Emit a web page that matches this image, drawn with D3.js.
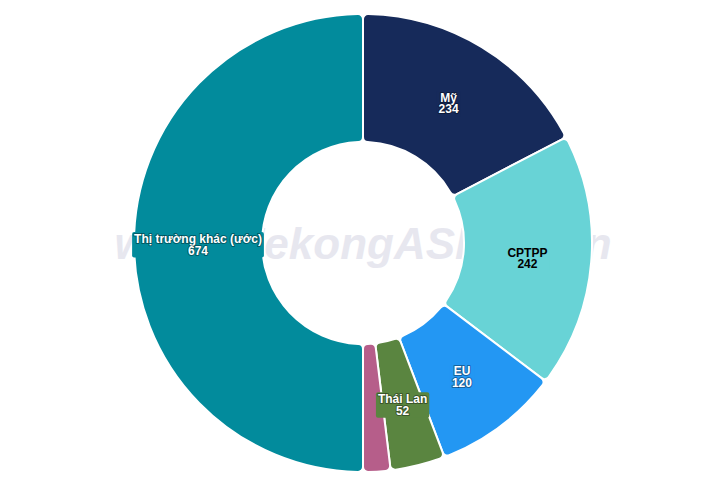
<!DOCTYPE html>
<html>
<head>
<meta charset="utf-8">
<script src="https://cdn.jsdelivr.net/npm/d3@7"></script>
<style>
  html, body { margin: 0; padding: 0; background: #fff; }
  svg { display: block; }
</style>
</head>
<body>
<svg id="chart" width="701" height="483"></svg>
<script>
const categories = ["Mỹ", "CPTPP", "EU", "Thái Lan", "", "Thị trường khác (ước)"];
const values = [234, 242, 120, 52, 26, 674];
const colors = ["#162a5a", "#68d3d6", "#2397f3", "#5a8540", "#b65e8a", "#028b9c"];
const labelColors = ["#ffffff", "#000000", "#ffffff", "#ffffff", "#ffffff", "#ffffff"];
const watermark = "www.MekongASEAN.vn";

const W = 701, H = 483;
const cx = 363, cy = 243;
const outerR = 229, innerR = 101;

const svg = d3.select("#chart");

// watermark behind
svg.append("text")
  .attr("x", cx).attr("y", 259)
  .attr("text-anchor", "middle")
  .attr("font-family", "Liberation Sans, Arial, sans-serif")
  .attr("font-weight", "bold")
  .attr("font-style", "italic")
  .attr("font-size", 44)
  .attr("fill", "#e7e7ef")
  .text(watermark);

const data = categories.map((c, i) => ({ name: c, value: values[i], color: colors[i], lc: labelColors[i] }));

const pie = d3.pie().sort(null).value(d => d.value);
const arcs = pie(data);

const arc = d3.arc().innerRadius(innerR).outerRadius(outerR).cornerRadius(5);
const labelArc = d3.arc().innerRadius(innerR).outerRadius(outerR);

const g = svg.append("g").attr("transform", `translate(${cx},${cy})`);

g.selectAll("path.slice")
  .data(arcs)
  .join("path")
  .attr("class", "slice")
  .attr("d", arc)
  .attr("fill", d => d.data.color)
  .attr("stroke", "#ffffff")
  .attr("stroke-width", 2)
  .attr("stroke-linejoin", "round");

const labels = g.selectAll("g.lbl")
  .data(arcs.filter(d => d.data.name !== ""))
  .join("g")
  .attr("class", "lbl")
  .attr("transform", d => { const c = labelArc.centroid(d); return `translate(${c[0]},${c[1]})`; });

labels.each(function(d) {
  const sel = d3.select(this);
  const t = sel.append("text")
    .attr("text-anchor", "middle")
    .attr("font-family", "Liberation Sans, Arial, sans-serif")
    .attr("font-weight", "bold")
    .attr("font-size", 12)
    .attr("fill", d.data.lc)
    .attr("stroke", d.data.lc === "#ffffff" ? "rgba(0,0,0,0.35)" : "none")
    .attr("stroke-width", 2)
    .attr("paint-order", "stroke")
    .attr("stroke-linejoin", "round");
  t.append("tspan").attr("x", 0).attr("y", 0).text(d.data.name);
  t.append("tspan").attr("x", 0).attr("y", 11.5).text(d3.format("d")(d.data.value));
  const bb = t.node().getBBox();
  sel.insert("rect", "text")
    .attr("x", bb.x - 2).attr("y", bb.y)
    .attr("width", bb.width + 4).attr("height", bb.height)
    .attr("rx", 2)
    .attr("fill", d.data.color);
});
</script>
</body>
</html>
